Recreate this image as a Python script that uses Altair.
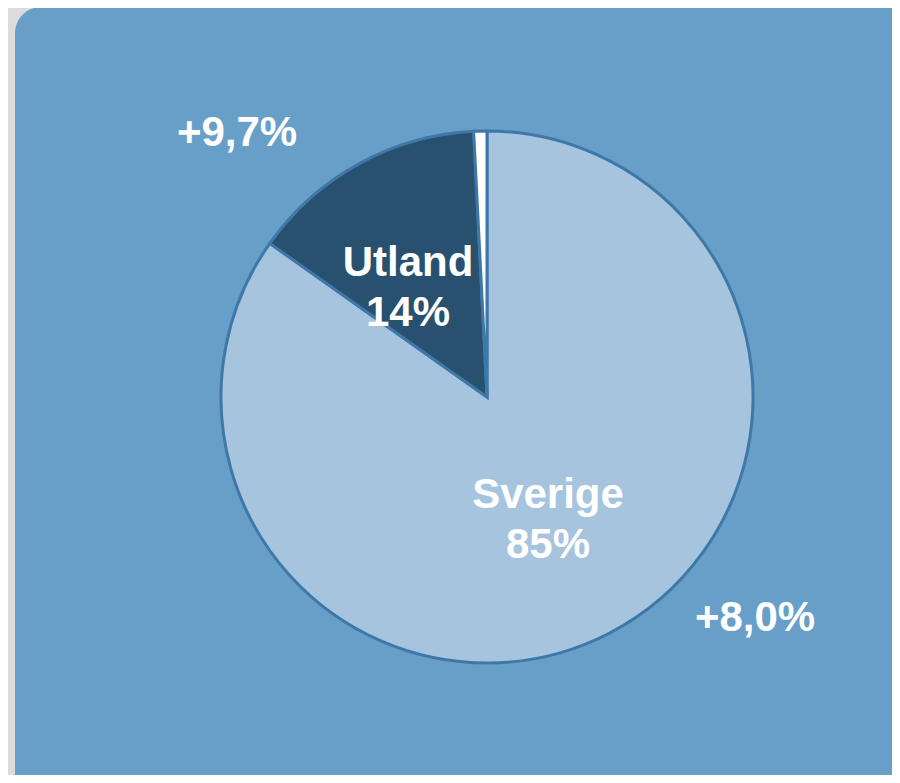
import altair as alt
import pandas as pd

categories = ["Sverige", "Utland", "Övrigt"]
shares = [84.8, 14.4, 0.8]
colors = ["#a6c4de", "#28506f", "#ffffff"]
slice_labels = ["Sverige\n85%", "Utland\n14%"]
growth_labels = ["+8,0%", "+9,7%"]

df = pd.DataFrame({"cat": categories, "share": shares, "ord": list(range(len(categories)))})

W, H = 884, 767
CX, CY, R = 479, 389, 266

panel = alt.Chart(pd.DataFrame({"a": [0]})).mark_rect(
    color="#679fc8", cornerRadius=26
).encode(x=alt.value(7), x2=alt.value(W + 40), y=alt.value(-1), y2=alt.value(H + 40))

pie = alt.Chart(df).mark_arc(
    outerRadius=R, stroke="#3e78a8", strokeWidth=3
).encode(
    theta=alt.Theta("share:Q", stack=True),
    order=alt.Order("ord:Q"),
    color=alt.Color("cat:N", scale=alt.Scale(domain=categories, range=colors), legend=None),
    x=alt.value(CX), y=alt.value(CY),
)

txt_style = dict(font="Liberation Sans", fontWeight="bold", color="white",
                 align="center", baseline="alphabetic", lineBreak="\n", lineHeight=50)

one = pd.DataFrame({"a": [0]})
t_sverige = alt.Chart(one).mark_text(fontSize=42, **txt_style).encode(
    text=alt.value(slice_labels[0]), x=alt.value(540), y=alt.value(500))
t_utland = alt.Chart(one).mark_text(fontSize=42, **txt_style).encode(
    text=alt.value(slice_labels[1]), x=alt.value(400), y=alt.value(268))
t_g1 = alt.Chart(one).mark_text(fontSize=42, **txt_style).encode(
    text=alt.value(growth_labels[0]), x=alt.value(747), y=alt.value(623))
t_g2 = alt.Chart(one).mark_text(fontSize=42, **txt_style).encode(
    text=alt.value(growth_labels[1]), x=alt.value(229), y=alt.value(138))

chart = alt.layer(panel, pie, t_sverige, t_utland, t_g1, t_g2).properties(
    width=W, height=H, background="#dcdcdc",
    autosize=alt.AutoSizeParams(type="none"), padding=0,
).configure_view(stroke=None)

chart.save("out.html", embed_options={"renderer": "svg", "actions": False})
